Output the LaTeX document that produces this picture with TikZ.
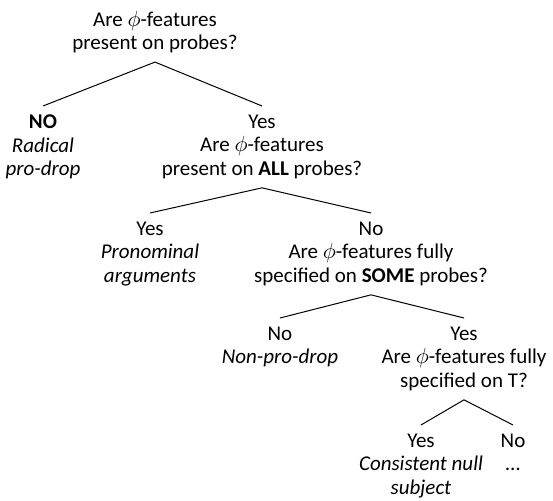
\documentclass[tikz,border=0pt]{standalone}
\usepackage{fontspec}
\setmainfont{Carlito}
\usetikzlibrary{positioning}

\begin{document}
\begin{tikzpicture}[x=0.5pt,y=-0.5pt,
    q/.style={align=center, inner sep=0pt, outer ysep=4.5pt, anchor=north,
      font=\fontsize{10.5}{11.75}\selectfont},
    branch/.style={line width=0.5pt}]
  \useasboundingbox (0,0) rectangle (553,501);
  % questions and answers
  \node[q] (root) at (155,2) {Are $\phi$-features\\present on probes?};
  \node[q] (radical) at (43,106) {\textbf{NO}\\\textit{Radical}\\\textit{pro-drop}};
  \node[q] (allq) at (262,106) {Yes\\Are $\phi$-features\\present on \textbf{ALL} probes?};
  \node[q] (pronom) at (150,213) {Yes\\\textit{Pronominal}\\\textit{arguments}};
  \node[q] (someq) at (371,213) {No\\Are $\phi$-features fully\\specified on \textbf{SOME} probes?};
  \node[q] (nonpro) at (280,318) {No\\\textit{Non-pro-drop}};
  \node[q] (tq) at (464,318) {Yes\\Are $\phi$-features fully\\specified on T?};
  \node[q] (consist) at (421,425) {Yes\\\textit{Consistent null}\\\textit{subject}};
  \node[q] (other) at (513,425) {No\\\dots};
  % branches
  \draw[branch] (root.south) -- (radical.north);
  \draw[branch] (root.south) -- (allq.north);
  \draw[branch] (allq.south) -- (pronom.north);
  \draw[branch] (allq.south) -- (someq.north);
  \draw[branch] (someq.south) -- (nonpro.north);
  \draw[branch] (someq.south) -- (tq.north);
  \draw[branch] (tq.south) -- (consist.north);
  \draw[branch] (tq.south) -- (other.north);
\end{tikzpicture}
\end{document}
